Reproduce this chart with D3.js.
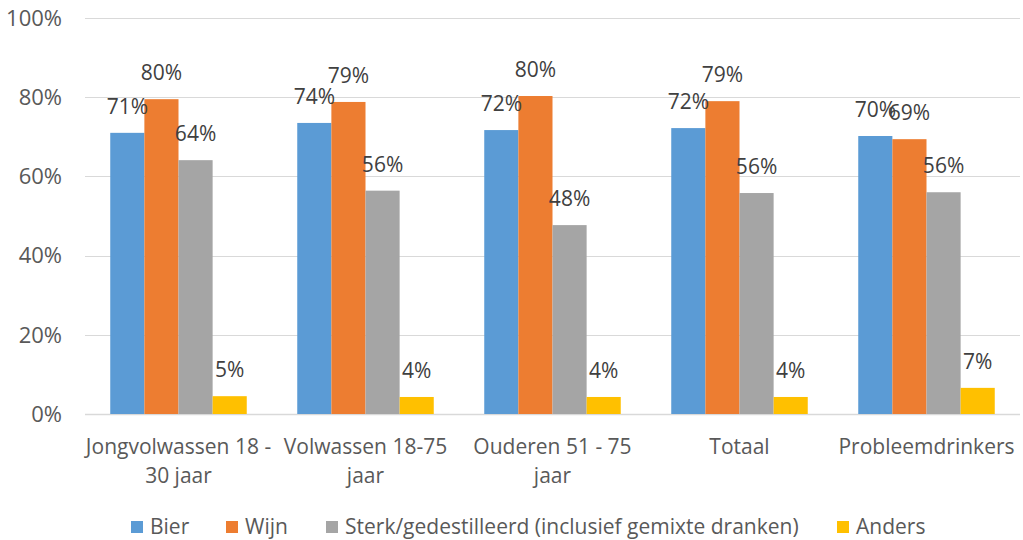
<!DOCTYPE html>
<html>
<head>
<meta charset="utf-8">
<script src="https://cdn.jsdelivr.net/npm/d3@7"></script>
<style>
  body { margin: 0; background: #fff; }
  text { font-family: "Open Sans", sans-serif; }
</style>
</head>
<body>
<svg width="1023" height="540"></svg>
<script>
var categories = [["Jongvolwassen 18 -", "30 jaar"], ["Volwassen 18-75", "jaar"], ["Ouderen 51 - 75", "jaar"], ["Totaal"], ["Probleemdrinkers"]];
var seriesNames = ["Bier", "Wijn", "Sterk/gedestilleerd (inclusief gemixte dranken)", "Anders"];
var seriesColors = ["#5b9bd5", "#ed7d31", "#a5a5a5", "#ffc000"];
var bier = [0.71, 0.735, 0.717, 0.722, 0.702];
var wijn = [0.795, 0.788, 0.803, 0.79, 0.694];
var sterk = [0.641, 0.564, 0.477, 0.558, 0.56];
var anders = [0.045, 0.043, 0.043, 0.043, 0.066];
var yTicks = [0, 0.2, 0.4, 0.6, 0.8, 1.0];

var allSeries = [bier, wijn, sterk, anders];
var fontSize = '21px';

var svg = d3.select('svg');
var padding = {t: 18, r: 3, b: 126, l: 85};
var width = 1023 - padding.l - padding.r;
var height = 540 - padding.t - padding.b;

var g = svg.append('g').attr('transform', 'translate(' + [padding.l, padding.t] + ')');

var x0 = d3.scaleBand().domain(d3.range(categories.length)).range([0, width]).paddingInner(0.27).paddingOuter(0.135);
var x1 = d3.scaleBand().domain(d3.range(seriesNames.length)).range([0, x0.bandwidth()]);
var y = d3.scaleLinear().domain([0, 1]).range([height, 0]);

// gridlines
g.selectAll('.grid')
    .data(yTicks)
    .join('line')
    .attr('class', 'grid')
    .attr('x1', 0).attr('x2', width)
    .attr('y1', d => Math.round(y(d)) + 0.5)
    .attr('y2', d => Math.round(y(d)) + 0.5)
    .style('stroke', '#d9d9d9')
    .style('stroke-width', d => d === 0 ? 1.5 : 1);

// y tick labels
g.selectAll('.ytick')
    .data(yTicks)
    .join('text')
    .attr('class', 'ytick')
    .attr('x', -23)
    .attr('y', d => y(d))
    .attr('dy', '0.35em')
    .style('text-anchor', 'end')
    .style('font-size', '22px')
    .style('fill', '#595959')
    .text(d3.format('.0%'));

var groups = g.selectAll('.group')
    .data(categories)
    .join('g')
    .attr('class', 'group')
    .attr('transform', (d, i) => 'translate(' + x0(i) + ',0)');

groups.selectAll('rect')
    .data((d, i) => allSeries.map((s, j) => ({s: j, v: s[i]})))
    .join('rect')
    .attr('x', d => x1(d.s))
    .attr('width', x1.bandwidth())
    .attr('y', d => y(d.v))
    .attr('height', d => y(0) - y(d.v))
    .style('fill', d => seriesColors[d.s]);

groups.selectAll('.val')
    .data((d, i) => allSeries.map((s, j) => ({s: j, v: s[i]})))
    .join('text')
    .attr('class', 'val')
    .attr('x', d => x1(d.s) + x1.bandwidth() / 2)
    .attr('y', d => y(d.v) - 19)
    .style('text-anchor', 'middle')
    .style('font-size', fontSize)
    .style('fill', '#404040')
    .text(d => d3.format('.0%')(d.v));

// category labels
groups.selectAll('.cat')
    .data(d => d)
    .join('text')
    .attr('class', 'cat')
    .attr('x', x0.bandwidth() / 2)
    .attr('y', (d, i) => height + 40 + i * 29)
    .style('text-anchor', 'middle')
    .style('font-size', fontSize)
    .style('fill', '#595959')
    .text(d => d);

// legend
var legendX = [131, 226, 326, 837];
var legend = svg.append('g');
var items = legend.selectAll('g')
    .data(seriesNames)
    .join('g')
    .attr('transform', (d, i) => 'translate(' + legendX[i] + ',521)');
items.append('rect')
    .attr('width', 12).attr('height', 12)
    .style('fill', (d, i) => seriesColors[i]);
items.append('text')
    .attr('x', 19).attr('y', 6).attr('dy', '0.35em')
    .style('font-size', fontSize)
    .style('fill', '#595959')
    .text(d => d);
</script>
</body>
</html>
